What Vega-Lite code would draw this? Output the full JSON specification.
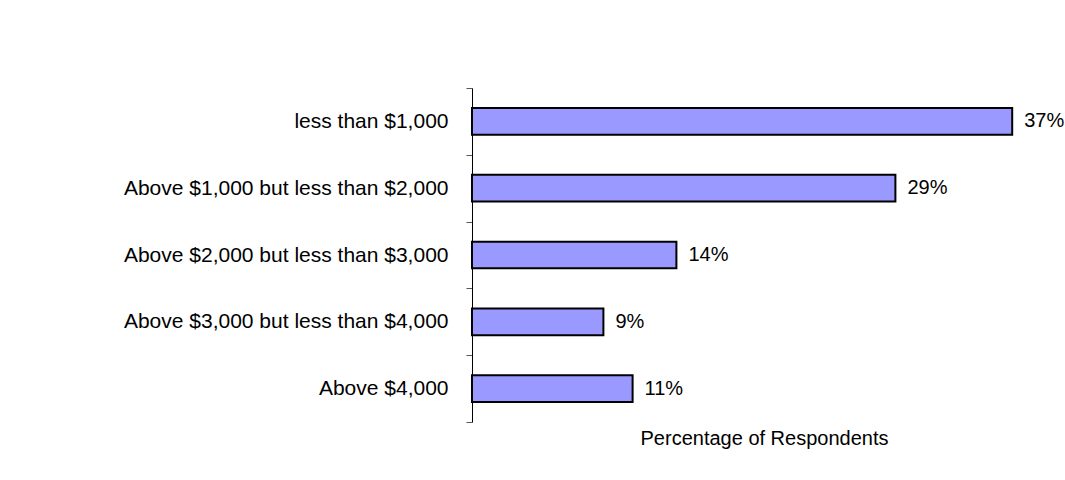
{
  "$schema": "https://vega.github.io/schema/vega-lite/v6.json",
  "autosize": {"type": "none"},
  "padding": {"left": 472, "top": 88, "right": 9, "bottom": 58},
  "width": 584,
  "height": 334,
  "background": "white",
  "config": {"view": {"stroke": null}, "font": "Liberation Sans"},
  "data": {"values": [
    {"category": "less than $1,000", "pct": 0.37, "label": "37%"},
    {"category": "Above $1,000 but less than $2,000", "pct": 0.29, "label": "29%"},
    {"category": "Above $2,000 but less than $3,000", "pct": 0.14, "label": "14%"},
    {"category": "Above $3,000 but less than $4,000", "pct": 0.09, "label": "9%"},
    {"category": "Above $4,000", "pct": 0.11, "label": "11%"}
  ]},
  "encoding": {
    "y": {
      "field": "category", "type": "nominal", "sort": null,
      "scale": {"paddingInner": 0, "paddingOuter": 0},
      "axis": {
        "title": null, "tickBand": "extent", "tickSize": 6, "tickColor": "#555555",
        "domainColor": "black", "domainWidth": 1, "labelFontSize": 21,
        "labelColor": "black", "labelPadding": 18, "labelFont": "Liberation Sans", "labelLimit": 0
      }
    },
    "x": {
      "field": "pct", "type": "quantitative",
      "scale": {"domain": [0, 0.4], "nice": false},
      "axis": {
        "title": "Percentage of Respondents", "domain": false, "ticks": false, "labels": false,
        "grid": false, "titleFontSize": 20, "titleFontWeight": "normal", "titleColor": "black",
        "titleFont": "Liberation Sans", "titlePadding": 6
      }
    }
  },
  "layer": [
    {"mark": {"type": "bar", "height": {"band": 0.4}, "fill": "#9999FF", "stroke": "black", "strokeWidth": 2}},
    {"mark": {"type": "text", "align": "left", "baseline": "middle", "dx": 12, "fontSize": 20, "color": "black", "font": "Liberation Sans"},
     "encoding": {"text": {"field": "label"}}}
  ]
}
